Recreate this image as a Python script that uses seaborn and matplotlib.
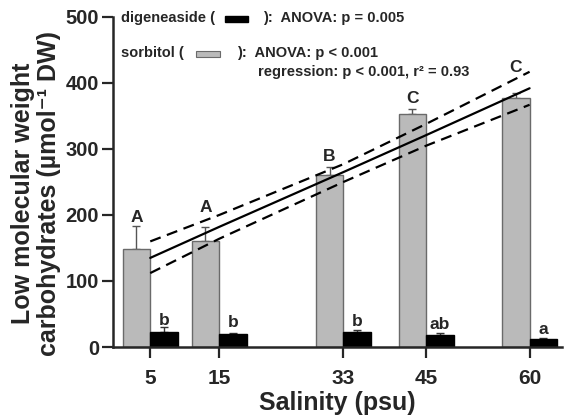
import matplotlib
matplotlib.use("Agg")
import matplotlib.pyplot as plt
from matplotlib.patches import Rectangle
import seaborn as sns
import pandas as pd
import numpy as np

# ---- data ----
salinity = [5, 15, 33, 45, 60]
sorbitol = [148, 160, 261, 353, 377]
sorbitol_err = [35, 22, 12, 8, 8]
digeneaside = [23, 20, 23, 18, 12]
digeneaside_err = [7, 0.5, 3, 3, 2]
sorbitol_letters = ["A", "A", "B", "C", "C"]
digeneaside_letters = ["b", "b", "b", "ab", "a"]

reg_x = [5, 15, 33, 45, 60]
reg_fit = [135, 182, 265, 321, 392]
reg_upper = [160, 200, 277, 338, 417]
reg_lower = [112, 164, 250, 305, 367]

x_ticks = [5, 15, 33, 45, 60]
y_ticks = [0, 100, 200, 300, 400, 500]

# layout: gap between error-bar top and letter baseline (data units)
sorbitol_letter_gap = [6, 22, 9, 9, 32]
digeneaside_letter_gap = [4, 10, 6, 6, 6]

sns.set_style("ticks")
plt.rcParams["font.family"] = ["Liberation Sans", "DejaVu Sans"]
plt.rcParams["font.weight"] = "bold"

W, H = 565, 419
fig = plt.figure(figsize=(W / 100, H / 100), dpi=100)
ax = fig.add_axes([113 / W, 1 - 347 / H, (562 - 113) / W, (347 - 17) / H])

df = pd.DataFrame({
    "salinity": salinity * 2,
    "compound": ["sorbitol"] * len(salinity) + ["digeneaside"] * len(salinity),
    "value": sorbitol + digeneaside,
})

gray = "#bababa"
sns.barplot(data=df, x="salinity", y="value", hue="compound",
            hue_order=["sorbitol", "digeneaside"],
            palette={"sorbitol": gray, "digeneaside": "black"},
            native_scale=True, width=0.8, dodge=True, errorbar=None,
            legend=False, ax=ax, zorder=2)

for p in ax.patches:
    fc = p.get_facecolor()
    if fc[0] > 0.5:
        p.set_edgecolor("#6a6a6a")
    else:
        p.set_edgecolor("black")
    p.set_linewidth(1.0)

half = 2.0  # half of dodged bar width in data units
xs_s = np.array(salinity) - half
xs_d = np.array(salinity) + half
ax.errorbar(xs_s, sorbitol, yerr=[np.zeros(5), sorbitol_err], fmt="none",
            ecolor="#555555", elinewidth=1.0, capsize=3, capthick=1.0, zorder=1)
ax.errorbar(xs_d, digeneaside, yerr=[np.zeros(5), digeneaside_err], fmt="none",
            ecolor="#333333", elinewidth=1.0, capsize=3, capthick=1.0, zorder=1)

for x, v, e, g, t in zip(xs_s, sorbitol, sorbitol_err, sorbitol_letter_gap, sorbitol_letters):
    ax.text(x, v + e + g, t, ha="center", va="baseline", fontsize=12.5, fontweight="bold")
for x, v, e, g, t in zip(xs_d, digeneaside, digeneaside_err, digeneaside_letter_gap, digeneaside_letters):
    ax.text(x, v + e + g, t, ha="center", va="baseline", fontsize=12.5, fontweight="bold")

# regression line with confidence bands
ax.plot(reg_x, reg_fit, color="black", lw=1.6, zorder=3)
ax.plot(reg_x, reg_upper, color="black", lw=1.6, ls=(0, (5, 3)), zorder=3)
ax.plot(reg_x, reg_lower, color="black", lw=1.6, ls=(0, (5, 3)), zorder=3)

ax.set_xlim(-0.4, 64.7)
ax.set_ylim(0, 500)
ax.set_xticks(x_ticks)
ax.set_xticklabels([str(t) for t in x_ticks], fontsize=15, fontweight="bold")
ax.set_yticks(y_ticks)
ax.set_yticklabels([str(t) for t in y_ticks], fontsize=14.5, fontweight="bold")
ax.tick_params(axis="x", length=8, width=1.6, pad=8)
ax.tick_params(axis="y", length=8, width=1.6, pad=2)
for s in ["left", "bottom"]:
    ax.spines[s].set_linewidth(1.8)
for s in ["top", "right"]:
    ax.spines[s].set_visible(False)

ax.set_xlabel("Salinity (psu)", fontsize=18, fontweight="bold", labelpad=2)
ax.set_ylabel("Low molecular weight\ncarbohydrates (µmol⁻¹ DW)",
              fontsize=18, fontweight="bold", linespacing=1.15)
ax.yaxis.label.set_verticalalignment("center")
ax.yaxis.set_label_coords((36 - 113) / (562 - 113), (347 - 193) / (347 - 17))

# legend-like annotations
def fx(px):
    return px / W

def fy(py):
    return 1 - py / H

fs = 10.5
fig.text(fx(121), fy(18), "digeneaside (", fontsize=fs, fontweight="bold", va="center")
fig.patches.append(Rectangle((fx(225), fy(22)), (248 - 225) / W, 6 / H,
                             transform=fig.transFigure, facecolor="black",
                             edgecolor="black", figure=fig))
fig.text(fx(263), fy(18), "):  ANOVA: p = 0.005", fontsize=fs, fontweight="bold", va="center")

fig.text(fx(121), fy(53), "sorbitol (", fontsize=fs, fontweight="bold", va="center")
fig.patches.append(Rectangle((fx(196), fy(57)), (220 - 196) / W, 6 / H,
                             transform=fig.transFigure, facecolor=gray,
                             edgecolor="#6a6a6a", lw=0.8, figure=fig))
fig.text(fx(237), fy(53), "):  ANOVA: p < 0.001", fontsize=fs, fontweight="bold", va="center")
fig.text(fx(258), fy(72), "regression: p < 0.001, r² = 0.93",
         fontsize=fs, fontweight="bold", va="center")

fig.savefig("out.png", dpi=100)
